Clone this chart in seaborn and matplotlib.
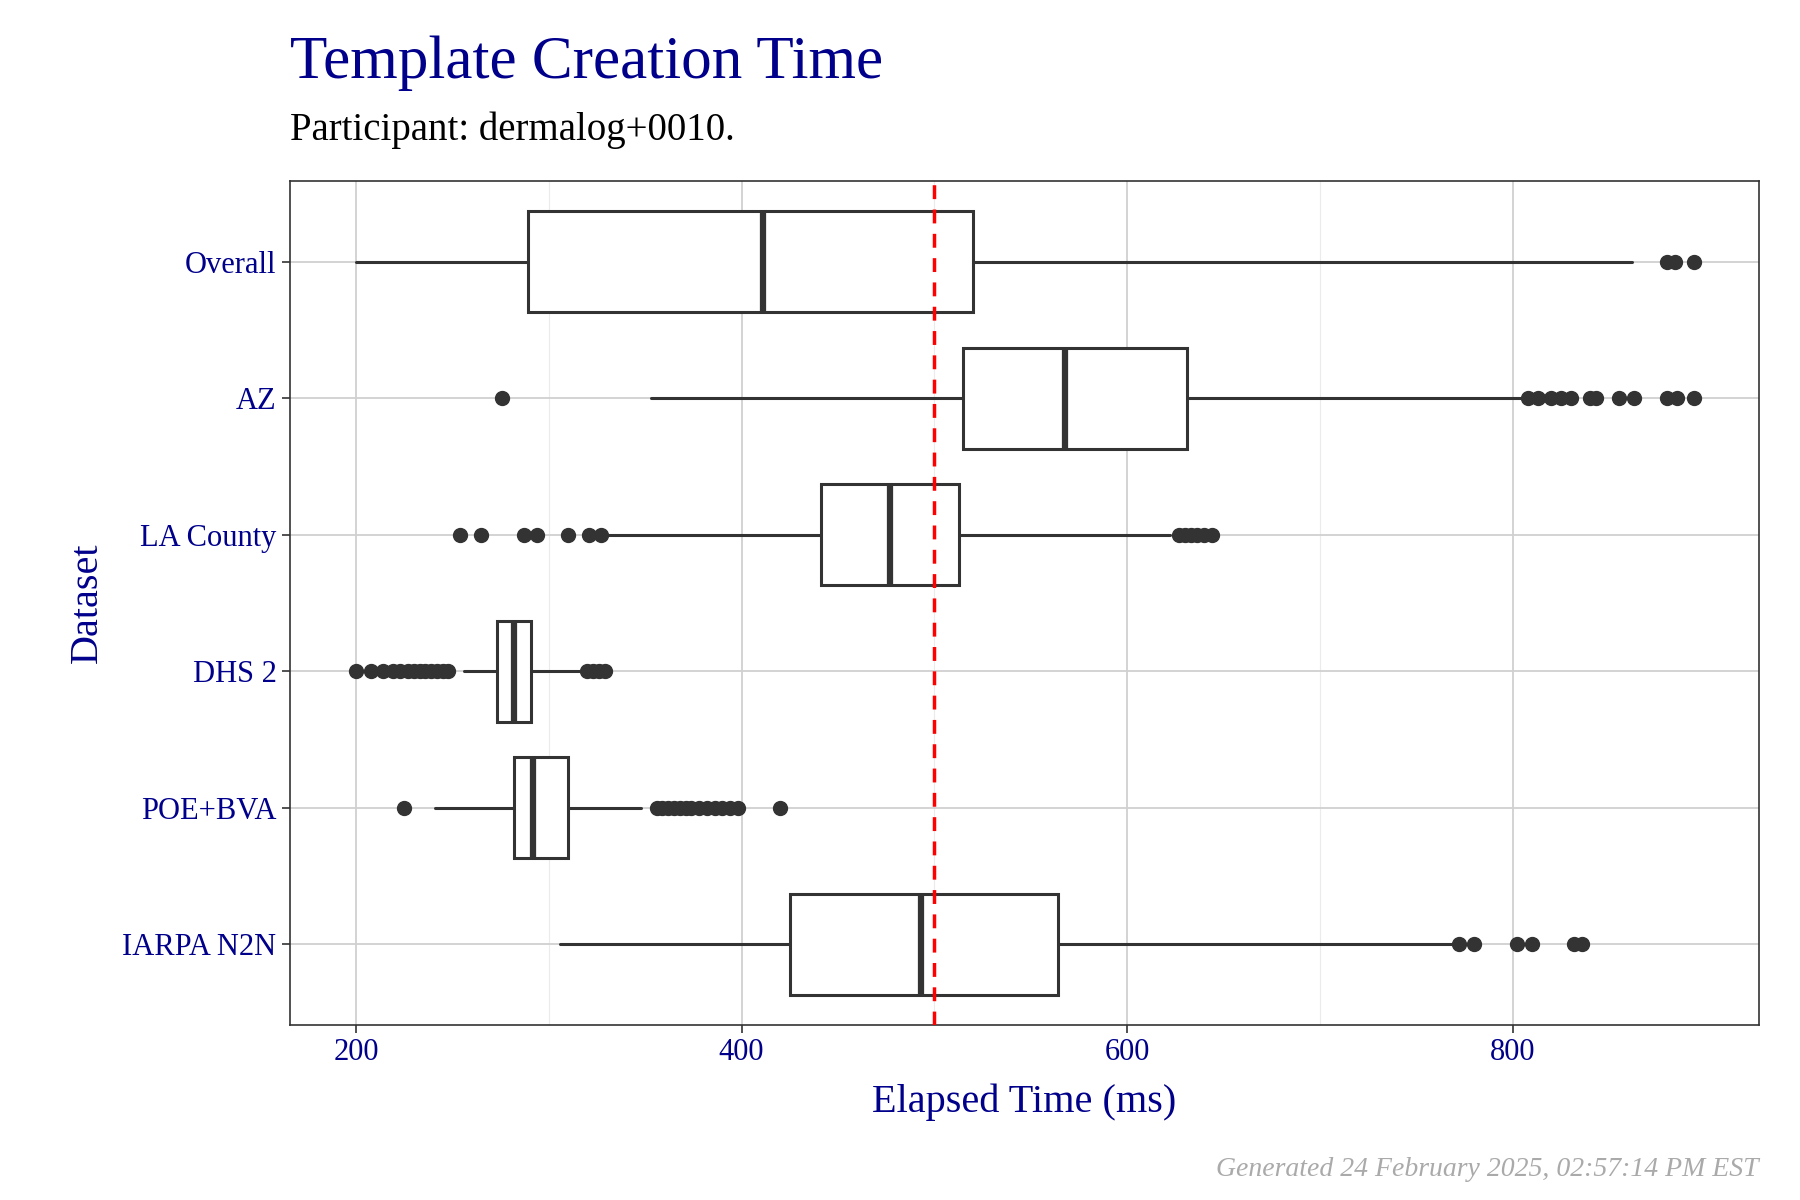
import matplotlib
matplotlib.use("Agg")
import matplotlib.pyplot as plt
import seaborn as sns

datasets = ["Overall", "AZ", "LA County", "DHS 2", "POE+BVA", "IARPA N2N"]
whislo = [200, 353, 327, 256, 241, 306]
q1 = [289, 515, 441, 273, 282, 425]
med = [411, 568, 477, 282, 292, 493]
q3 = [520, 631, 513, 291, 310, 564]
whishi = [862, 806, 622, 316, 348, 770]
outliers = [
    [880, 884, 894],
    [276, 808, 813, 820, 825, 830, 840, 843, 855, 863, 880, 885, 894],
    [254, 265, 287, 294, 310, 321, 327, 627, 630, 633, 636, 640, 644],
    [200, 208, 214, 219, 223, 227, 230, 233, 236, 239, 242, 245, 248, 320, 323, 326, 329],
    [225, 356, 359, 362, 365, 368, 371, 374, 378, 382, 386, 390, 394, 398, 420],
    [772, 780, 802, 810, 832, 836],
]
threshold = 500

sns.set_theme(style="whitegrid")
plt.rcParams['font.family'] = ['Liberation Serif', 'DejaVu Serif']
navy = "#00008B"

fig = plt.figure(figsize=(18, 12), dpi=100)
ax = fig.add_axes([0.161, 0.146, 0.816, 0.703])

stats = [dict(label=d, whislo=a, q1=b, med=c, q3=e, whishi=f, fliers=g)
         for d, a, b, c, e, f, g in zip(datasets, whislo, q1, med, q3, whishi, outliers)]
lc = "#333333"
ax.bxp(stats, positions=range(len(datasets)), vert=False, widths=0.74, patch_artist=True,
       boxprops=dict(facecolor="white", edgecolor=lc, linewidth=2.2),
       medianprops=dict(color=lc, linewidth=4.5),
       whiskerprops=dict(color=lc, linewidth=2.2),
       capprops=dict(linewidth=0),
       flierprops=dict(marker="o", markerfacecolor=lc, markeredgecolor=lc, markersize=10),
       zorder=3)
ax.axvline(threshold, color="red", linestyle=(0, (4, 3)), linewidth=2.5, zorder=4)

ax.set_ylim(5.59, -0.59)
ax.set_xlim(165.7, 927.5)
ax.set_xticks([200, 400, 600, 800])
ax.set_xticks([300, 500, 700], minor=True)
ax.grid(True, which="major", color="#d0d0d0", linewidth=1.3)
ax.grid(True, which="minor", axis="x", color="#ebebeb", linewidth=0.8)
ax.set_axisbelow(True)
for s in ax.spines.values():
    s.set_color("#333333"); s.set_linewidth(1.2)
ax.tick_params(axis="both", colors="#333333", length=6, width=1.2, labelsize=22,
               left=True, bottom=True)
for t in ax.get_xticklabels() + ax.get_yticklabels():
    t.set_color(navy)
ax.set_xlabel("Elapsed Time (ms)", fontsize=29, color=navy, labelpad=12)
ax.set_ylabel("Dataset", fontsize=29, color=navy, labelpad=12)

fig.text(0.161, 0.935, "Template Creation Time", fontsize=44, color=navy)
fig.text(0.161, 0.883, "Participant: dermalog+0010.", fontsize=28, color="black")
fig.text(0.977, 0.02, "Generated 24 February 2025, 02:57:14 PM EST", fontsize=20,
         color="#aaaaaa", style="italic", ha="right")
fig.savefig("out.png", dpi=100)
